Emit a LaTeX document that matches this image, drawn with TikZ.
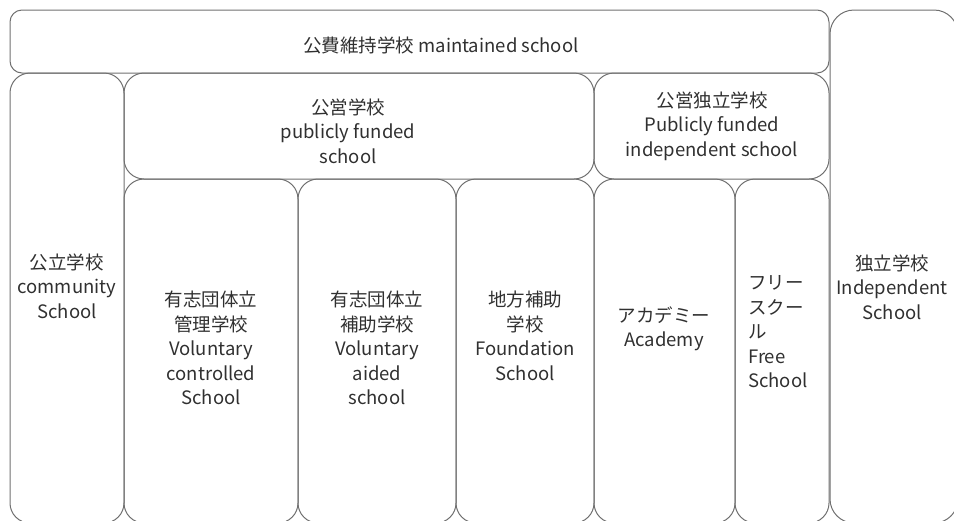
\documentclass[tikz,border=0pt]{standalone}
\usepackage{fontspec}
\setmainfont{Noto Sans CJK JP}
\definecolor{boxgray}{HTML}{707070}
\definecolor{txtgray}{HTML}{303030}
\begin{document}
\begin{tikzpicture}[x=1pt,y=-1pt,
  box/.style={draw=boxgray, line width=1pt, rounded corners=#1, inner sep=0pt, outer sep=0pt, anchor=north west},
  box/.default=20pt,
  lbl/.style={align=center, font=\fontsize{18.5}{24.5}\selectfont, text=txtgray, inner sep=0pt},
  lbll/.style={align=left, font=\fontsize{18.5}{24.5}\selectfont, text=txtgray, inner sep=0pt, anchor=west},
]
\useasboundingbox (0,0) rectangle (954,520);
\clip (0,0) rectangle (954,520);
% boxes
\node[box=12pt, minimum width=819pt, minimum height=63pt] (maint) at (10,10) {};
\node[box=24pt, minimum width=128pt, minimum height=513pt] (indep) at (830,10) {};
\node[box, minimum width=114pt, minimum height=450pt] (comm) at (10,73) {};
\node[box, minimum width=470pt, minimum height=106pt] (pfs) at (124,73) {};
\node[box, minimum width=235pt, minimum height=106pt] (pfi) at (594,73) {};
\node[box, minimum width=174pt, minimum height=344pt] (vc) at (124,179) {};
\node[box, minimum width=158pt, minimum height=344pt] (va) at (298,179) {};
\node[box, minimum width=138pt, minimum height=344pt] (found) at (456,179) {};
\node[box, minimum width=141pt, minimum height=344pt] (acad) at (594,179) {};
\node[box, minimum width=94pt, minimum height=344pt] (free) at (735,179) {};
% labels
\node[lbl] (tmaint) at (441,45) {公費維持学校 maintained school};
\node[lbl] (tindep) at (892,287) {独立学校\\Independent\\School};
\node[lbl] (tcomm) at (67,286) {公立学校\\community\\School};
\node[lbl] (tpfs) at (348,131) {公営学校\\publicly funded\\school};
\node[lbl] (tpfi) at (712,126) {公営独立学校\\Publicly funded\\independent school};
\node[lbl] (tvc) at (211,348) {有志団体立\\管理学校\\Voluntary\\controlled\\School};
\node[lbl] (tva) at (377,348) {有志団体立\\補助学校\\Voluntary\\aided\\school};
\node[lbl] (tfound) at (525,336) {地方補助\\学校\\Foundation\\School};
\node[lbl] (tacad) at (664,329) {アカデミー\\Academy};
\node[lbll] (tfree) at (748,332) {フリー\\スクー\\ル\\Free\\School};
\end{tikzpicture}
\end{document}
